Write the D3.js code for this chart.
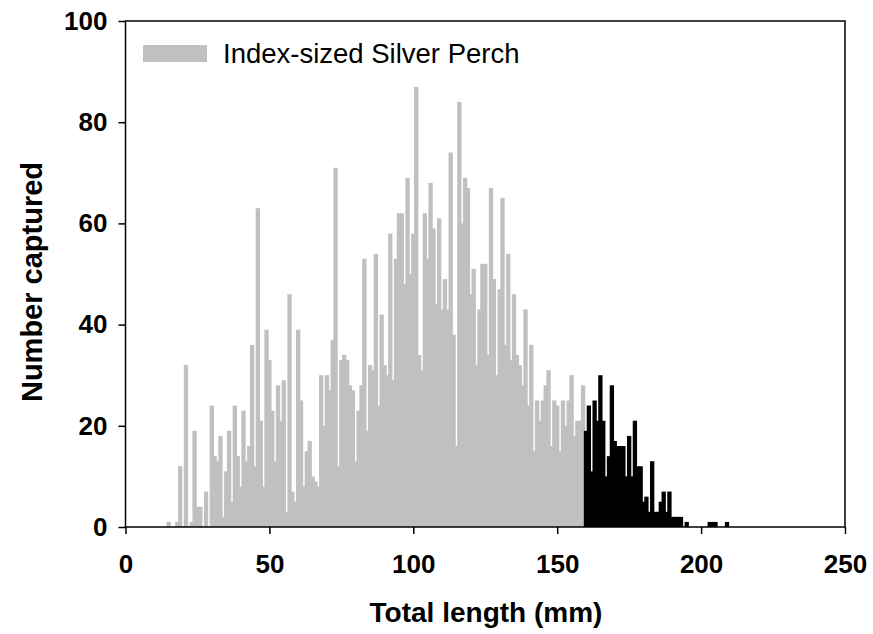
<!DOCTYPE html>
<html>
<head>
<meta charset="utf-8">
<script src="https://cdn.jsdelivr.net/npm/d3@7"></script>
<style>
  body { margin: 0; background: #fff; }
  svg text { font-family: Arial, "Liberation Sans", sans-serif; }
</style>
</head>
<body>
<div id="chart"></div>
<script>
// Length-frequency of Silver Perch, one count per 1 mm length class
const indexSizedStart = 15; // first length class (mm) of the grey series
const indexSizedCounts = [
  1, 0, 0, 1, 12, 0, 32, 0, 1, 19,
  4, 4, 0, 7, 0, 24, 14, 13, 18, 2,
  11, 19, 5, 24, 14, 8, 23, 13, 16, 36,
  12, 63, 21, 8, 39, 33, 23, 13, 28, 21,
  29, 3, 46, 7, 5, 39, 25, 8, 15, 17,
  10, 9, 8, 30, 20, 30, 27, 37, 71, 12,
  33, 34, 33, 28, 27, 13, 23, 28, 53, 19,
  32, 31, 54, 24, 42, 32, 30, 58, 29, 53,
  62, 62, 48, 69, 50, 58, 87, 34, 31, 62,
  53, 68, 59, 44, 61, 43, 49, 43, 74, 38,
  16, 84, 60, 69, 67, 46, 51, 32, 43, 52,
  52, 34, 67, 49, 30, 47, 65, 36, 54, 33,
  46, 34, 32, 28, 43, 24, 36, 15, 25, 21,
  25, 28, 31, 16, 25, 24, 15, 25, 20, 25,
  30, 18, 21, 21, 28
];
const largerStart = 160; // black series, fish above index size
const largerCounts = [
  19, 24, 11, 25, 21, 30, 21, 10, 14, 28,
  17, 16, 16, 16, 10, 18, 10, 21, 12, 12,
  5, 6, 3, 13, 3, 3, 5, 7, 3, 7,
  2, 2, 2, 2, 0, 1, 0, 0, 0, 0,
  0, 0, 0, 1, 1, 1, 0, 0, 0, 1
];

const xTicks = [0, 50, 100, 150, 200, 250];
const yTicks = [0, 20, 40, 60, 80, 100];
const legendLabel = 'Index-sized Silver Perch';
const xTitle = 'Total length (mm)';
const yTitle = 'Number captured';

const margin = { top: 21, right: 28, bottom: 107, left: 125.5 };
const width = 873 - margin.left - margin.right;
const height = 634 - margin.top - margin.bottom;

const svg = d3.select('#chart')
  .append('svg')
  .attr('width', 873)
  .attr('height', 634);

const chart = svg.append('g')
  .attr('transform', `translate(${margin.left},${margin.top})`);

const x = d3.scaleLinear().domain([0, 250]).range([0, width]);
const y = d3.scaleLinear().domain([0, 100]).range([height, 0]);

// bars are wider than one class, taller ones drawn last
const barW = (x(1) - x(0)) * 1.5;

function toBars(start, counts) {
  return counts
    .map((n, i) => ({ len: start + i, n }))
    .filter(d => d.n > 0)
    .sort((a, b) => a.n - b.n);
}

function drawBars(data, cls, color) {
  chart.append('g')
    .selectAll('rect.' + cls)
    .data(data)
    .enter()
    .append('rect')
    .attr('class', cls)
    .attr('x', d => x(d.len) - barW / 2)
    .attr('y', d => y(d.n))
    .attr('width', barW)
    .attr('height', d => height - y(d.n))
    .attr('fill', color);
}

drawBars(toBars(indexSizedStart, indexSizedCounts), 'grey', '#c0c0c0');
drawBars(toBars(largerStart, largerCounts), 'black', '#000');

// axes
const xAxis = chart.append('g')
  .attr('transform', `translate(0,${height})`)
  .call(d3.axisBottom(x).tickValues(xTicks).tickSize(7).tickPadding(21).tickSizeOuter(0));

const yAxis = chart.append('g')
  .call(d3.axisLeft(y).tickValues(yTicks).tickSize(7).tickPadding(11).tickSizeOuter(0));

[xAxis, yAxis].forEach(g => {
  g.select('.domain').remove();
  g.attr('font-family', 'Arial, "Liberation Sans", sans-serif')
    .attr('font-size', 26)
    .attr('font-weight', 'bold');
  g.selectAll('line').attr('stroke', '#000').attr('stroke-width', 1.5);
  g.selectAll('text').attr('fill', '#000');
});

// frame
chart.append('rect')
  .attr('x', 0)
  .attr('y', 0)
  .attr('width', width)
  .attr('height', height)
  .attr('fill', 'none')
  .attr('stroke', '#000')
  .attr('stroke-width', 1.5);

// titles
svg.append('text')
  .attr('x', 486)
  .attr('y', 622)
  .attr('text-anchor', 'middle')
  .attr('font-size', 28)
  .attr('font-weight', 'bold')
  .text(xTitle);

svg.append('text')
  .attr('transform', 'translate(42,282) rotate(-90)')
  .attr('text-anchor', 'middle')
  .attr('font-size', 29)
  .attr('font-weight', 'bold')
  .text(yTitle);

// legend
const legend = svg.append('g')
  .attr('transform', 'translate(143,45)');

legend.append('rect')
  .attr('width', 64)
  .attr('height', 17)
  .attr('fill', '#c0c0c0');

legend.append('text')
  .attr('x', 80)
  .attr('y', 18)
  .attr('font-size', 27.5)
  .text(legendLabel);
</script>
</body>
</html>
